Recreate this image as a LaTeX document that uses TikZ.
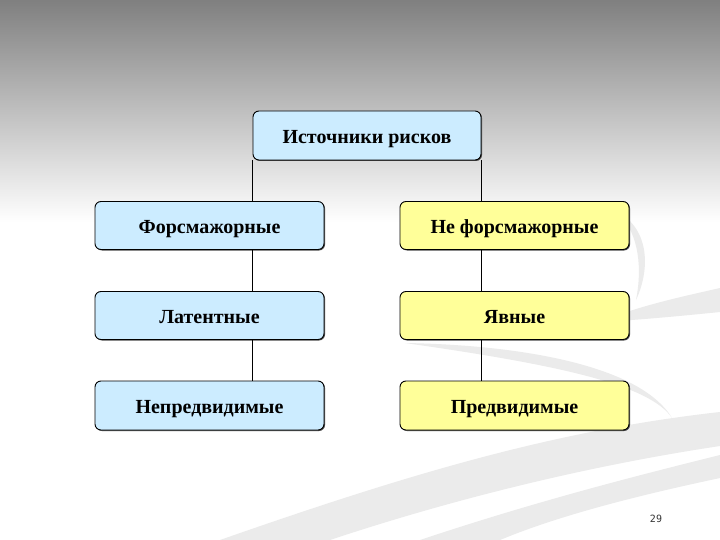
\documentclass[tikz,border=0pt]{standalone}
\usepackage{fontspec}
\setmainfont{Liberation Serif}
\newfontfamily\numfont{DejaVu Sans Mono}
\usetikzlibrary{shadows}
\definecolor{boxblue}{HTML}{CCECFF}
\definecolor{boxyellow}{HTML}{FFFF99}
\definecolor{swoosh}{HTML}{EBEBEB}
\begin{document}
\begin{tikzpicture}[x=1pt,y=-1pt,
  box/.style={draw=black, line width=0.9pt, rounded corners=6pt,
    minimum width=229pt, minimum height=48pt, inner sep=0pt,
    text height=18pt, text depth=2pt,
    font=\bfseries\fontsize{20}{22}\selectfont,
    drop shadow={shadow xshift=1pt, shadow yshift=-1pt, fill=black!70, opacity=1}},
  bluebox/.style={box, fill=boxblue},
  yellowbox/.style={box, fill=boxyellow},
  link/.style={draw=black, line width=0.8pt}]
% background
\useasboundingbox (0,0) rectangle (720,540);
\fill[white] (0,0) rectangle (720,540);
\shade[top color=black!50, bottom color=white] (0,0) rectangle (720,222);
% swooshes
\fill[swoosh] (220,540) .. controls (420,470) and (560,430) .. (720,412)
  -- (720,446) .. controls (560,470) and (420,510) .. (330,540) -- cycle;
\fill[swoosh] (420,540) .. controls (540,500) and (640,475) .. (720,455)
  -- (720,478) .. controls (640,495) and (560,515) .. (500,540) -- cycle;
\fill[swoosh] (405,343) .. controls (520,345) and (640,365) .. (672,418)
  .. controls (650,385) and (560,365) .. (405,343) -- cycle;
\fill[swoosh] (600,322) .. controls (640,305) and (690,295) .. (720,288)
  -- (720,312) .. controls (690,315) and (640,320) .. (600,322) -- cycle;
\fill[swoosh] (618,212) .. controls (650,230) and (650,270) .. (636,300)
  .. controls (642,270) and (640,235) .. (618,212) -- cycle;
% nodes
\node[bluebox, minimum width=228pt, minimum height=49pt] (top) at (367,135.5) {Источники рисков};
\node[bluebox] (l1) at (209.5,225.5) {Форсмажорные};
\node[bluebox] (l2) at (209.5,315.5) {Латентные};
\node[bluebox, minimum height=49pt] (l3) at (209.5,405.5) {Непредвидимые};
\node[yellowbox] (r1) at (514.5,225.5) {Не форсмажорные};
\node[yellowbox] (r2) at (514.5,315.5) {Явные};
\node[yellowbox, minimum height=49pt] (r3) at (514.5,405.5) {Предвидимые};
% connectors
\draw[link] (top.south west) -- (top.south west |- l1.north);
\draw[link] (top.south east) -- (top.south east |- r1.north);
\draw[link] (top.south west |- l1.south) -- (top.south west |- l2.north);
\draw[link] (top.south west |- l2.south) -- (top.south west |- l3.north);
\draw[link] (top.south east |- r1.south) -- (top.south east |- r2.north);
\draw[link] (top.south east |- r2.south) -- (top.south east |- r3.north);
% page number
\node[font=\numfont\fontsize{10}{12}\selectfont, text=black!80] (num) at (656,519) {29};
\end{tikzpicture}
\end{document}
